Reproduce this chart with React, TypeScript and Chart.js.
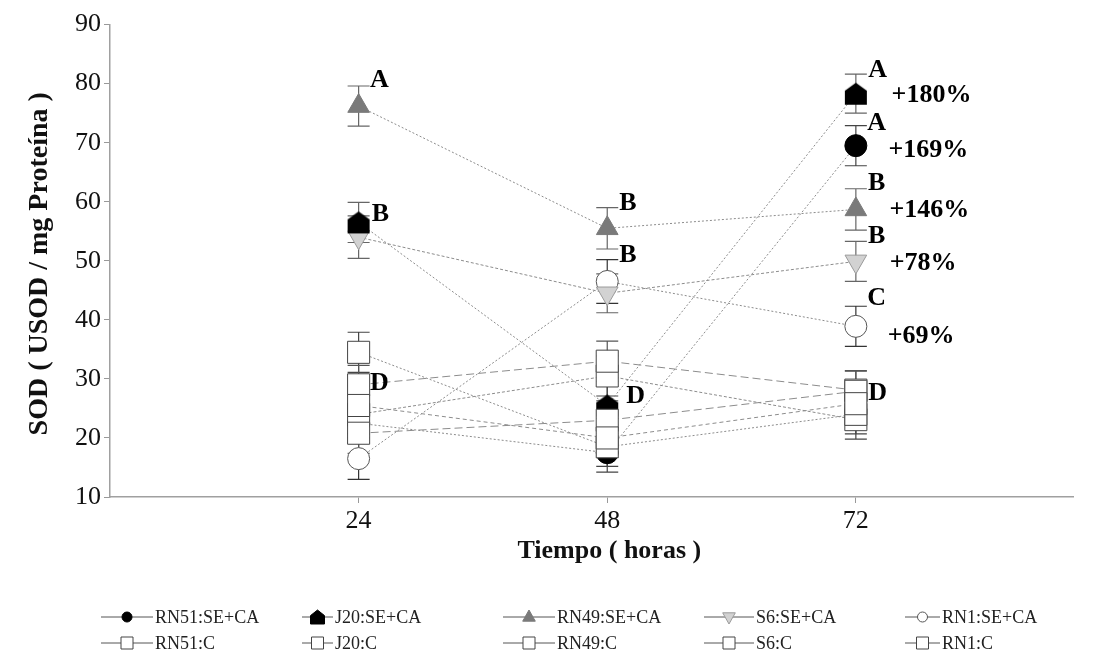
import React, { useEffect, useRef } from 'react';
import { Chart, registerables } from 'chart.js';

Chart.register(...registerables);

// ---------- data ----------
const hours = [24, 48, 72];
const xTicks = [24, 48, 72];
const yTicks = [10, 20, 30, 40, 50, 60, 70, 80, 90];

const seriesNames = [
  'RN51:SE+CA', 'J20:SE+CA', 'RN49:SE+CA', 'S6:SE+CA', 'RN1:SE+CA',
  'RN51:C', 'J20:C', 'RN49:C', 'S6:C', 'RN1:C',
];

const rn51SE = [22.5, 17.5, 69.5];
const j20SE = [56.5, 25.5, 78.3];
const rn49SE = [76.2, 55.5, 58.7];
const s6SE = [54.0, 44.5, 49.9];
const rn1SE = [16.5, 46.5, 38.9];
const rn51C = [25.5, 20.0, 25.8];
const j20C = [20.8, 23.0, 27.9];
const rn49C = [34.5, 18.5, 24.0];
const s6C = [29.0, 33.0, 28.1];
const rn1C = [24.0, 30.5, 23.1];

const rn51SEErr = [3.3, 3.3, 3.4];
const j20SEErr = [3.4, 3.3, 3.3];
const rn49SEErr = [3.4, 3.5, 3.5];
const s6SEErr = [3.6, 3.3, 3.4];
const rn1SEErr = [3.5, 3.7, 3.4];
const rn51CErr = [3.3, 3.3, 3.3];
const j20CErr = [3.4, 3.3, 3.4];
const rn49CErr = [3.4, 3.3, 3.3];
const s6CErr = [3.3, 3.4, 3.3];
const rn1CErr = [3.3, 3.4, 3.3];

// annotation letters / percentages (x in hours, y in SOD units)
const labelTexts = ['A', 'B', 'D', 'B', 'B', 'D', 'A', '+180%', 'A', '+169%', 'B', '+146%', 'B', '+78%', 'C', '+69%', 'D'];
const labelX = [26.0, 26.1, 26.0, 50.0, 50.0, 50.75, 74.1, 79.3, 74.0, 79.0, 74.0, 79.1, 74.0, 78.5, 74.0, 78.3, 74.1];
const labelY = [80.5, 57.8, 29.3, 59.8, 50.9, 27.1, 82.3, 78.0, 73.3, 68.7, 63.2, 58.5, 54.1, 49.6, 43.6, 37.3, 27.6];

const yTitle = 'SOD ( USOD / mg Proteína )';
const xTitle = 'Tiempo ( horas )';

const SERIF = "'Liberation Serif', 'Times New Roman', serif";

export default function App() {
  const ref = useRef<HTMLCanvasElement>(null);

  useEffect(() => {
    const canvas = ref.current;
    if (!canvas) return;

    // pentagon ("house") marker
    const pent = document.createElement('canvas');
    pent.width = 24;
    pent.height = 24;
    const pc = pent.getContext('2d')!;
    pc.fillStyle = '#000';
    pc.beginPath();
    pc.moveTo(12, 1);
    pc.lineTo(23, 9);
    pc.lineTo(23, 23);
    pc.lineTo(1, 23);
    pc.lineTo(1, 9);
    pc.closePath();
    pc.fill();

    const values = [rn51SE, j20SE, rn49SE, s6SE, rn1SE, rn51C, j20C, rn49C, s6C, rn1C];
    const errs = [rn51SEErr, j20SEErr, rn49SEErr, s6SEErr, rn1SEErr, rn51CErr, j20CErr, rn49CErr, s6CErr, rn1CErr];
    const kinds = ['circle', 'pent', 'tri', 'tridown', 'circle', 'rect', 'rect', 'rect', 'rect', 'rect'];
    const fills = ['#000', '#000', '#7a7a7a', '#d2d2d2', '#fff', '#fff', '#fff', '#fff', '#fff', '#fff'];
    const strokes = ['#000', '#000', '#7a7a7a', '#9a9a9a', '#555', '#444', '#444', '#444', '#444', '#444'];
    const whisk = ['#444', '#666', '#666', '#666', '#333', '#444', '#555', '#444', '#555', '#444'];
    const dashes = [[2, 2], [2, 2], [2, 2], [3, 2], [2, 2], [4, 3], [8, 4], [2, 2], [8, 4], [3, 2]];

    const datasets = seriesNames.map((name, i) => {
      const k = kinds[i];
      let pointStyle: any = 'circle';
      let radius = 11;
      let rotation = 0;
      if (k === 'pent') { pointStyle = pent; radius = 12; }
      if (k === 'tri') { pointStyle = 'triangle'; radius = 12.5; }
      if (k === 'tridown') { pointStyle = 'triangle'; radius = 12.5; rotation = 180; }
      if (k === 'rect') { pointStyle = 'rect'; radius = 15.6; }
      return {
        label: name,
        data: hours.map((h, j) => ({ x: h, y: values[i][j] })),
        borderColor: '#8c8c8c',
        borderWidth: 1,
        borderDash: dashes[i],
        fill: false,
        tension: 0,
        pointStyle,
        pointRadius: radius,
        pointRotation: rotation,
        pointBackgroundColor: fills[i],
        pointBorderColor: strokes[i],
        pointBorderWidth: 1,
        order: i < 5 ? 1 : 0,
      };
    });

    const drawSym = (ctx: CanvasRenderingContext2D, kind: string, x: number, y: number, s: number, fill: string, stroke: string) => {
      ctx.save();
      ctx.setLineDash([]);
      ctx.beginPath();
      if (kind === 'circle') ctx.arc(x, y, s, 0, Math.PI * 2);
      else if (kind === 'tri') {
        ctx.moveTo(x, y - s); ctx.lineTo(x + s * 0.9, y + s * 0.6); ctx.lineTo(x - s * 0.9, y + s * 0.6); ctx.closePath();
      } else if (kind === 'tridown') {
        ctx.moveTo(x, y + s); ctx.lineTo(x + s * 0.9, y - s * 0.6); ctx.lineTo(x - s * 0.9, y - s * 0.6); ctx.closePath();
      } else if (kind === 'rect') ctx.rect(x - s, y - s, 2 * s, 2 * s);
      else if (kind === 'pent') {
        ctx.moveTo(x, y - s); ctx.lineTo(x + s, y - s * 0.2); ctx.lineTo(x + s, y + s); ctx.lineTo(x - s, y + s); ctx.lineTo(x - s, y - s * 0.2); ctx.closePath();
      }
      ctx.fillStyle = fill;
      ctx.fill();
      ctx.strokeStyle = stroke;
      ctx.lineWidth = 1;
      ctx.stroke();
      ctx.restore();
    };

    const extras = {
      id: 'extras',
      beforeDatasetsDraw(chart: any) {
        const ctx = chart.ctx as CanvasRenderingContext2D;
        const ys = chart.scales.y;
        ctx.save();
        ctx.setLineDash([]);
        ctx.lineWidth = 1.2;
        values.forEach((vals, i) => {
          const meta = chart.getDatasetMeta(i);
          vals.forEach((v, j) => {
            const x = meta.data[j].x;
            const top = ys.getPixelForValue(v + errs[i][j]);
            const bot = ys.getPixelForValue(v - errs[i][j]);
            ctx.strokeStyle = whisk[i];
            ctx.beginPath();
            ctx.moveTo(x, top); ctx.lineTo(x, bot);
            ctx.moveTo(x - 11, top); ctx.lineTo(x + 11, top);
            ctx.moveTo(x - 11, bot); ctx.lineTo(x + 11, bot);
            ctx.stroke();
          });
        });
        ctx.restore();
      },
      afterDraw(chart: any) {
        const ctx = chart.ctx as CanvasRenderingContext2D;
        const xs = chart.scales.x;
        const ys = chart.scales.y;
        const area = chart.chartArea;
        ctx.save();
        // annotations
        ctx.fillStyle = '#000';
        ctx.font = `bold 26px ${SERIF}`;
        ctx.textAlign = 'center';
        ctx.textBaseline = 'middle';
        labelTexts.forEach((t, i) => {
          ctx.fillText(t, xs.getPixelForValue(labelX[i]), ys.getPixelForValue(labelY[i]));
        });
        // y title
        ctx.save();
        ctx.translate(32, (area.top + area.bottom) / 2 + 3);
        ctx.rotate(-Math.PI / 2);
        ctx.font = `bold 28px ${SERIF}`;
        ctx.fillStyle = '#111';
        ctx.fillText(yTitle, 0, 0);
        ctx.restore();
        // x title
        ctx.font = `bold 26px ${SERIF}`;
        ctx.fillStyle = '#111';
        ctx.fillText(xTitle, xs.getPixelForValue(48.2), 543);
        // legend
        const lineStart = [93, 294, 495, 696, 897];
        const textStart = [147, 327, 549, 748, 934];
        const rowY = [609, 635];
        ctx.font = `18px ${SERIF}`;
        ctx.textAlign = 'left';
        seriesNames.forEach((name, i) => {
          const r = i < 5 ? 0 : 1;
          const c = i % 5;
          const y = rowY[r];
          const x0 = lineStart[c];
          const x1 = textStart[c] - 2;
          ctx.strokeStyle = '#555';
          ctx.lineWidth = 1;
          ctx.setLineDash([]);
          ctx.beginPath();
          ctx.moveTo(x0, y); ctx.lineTo(x1, y);
          ctx.stroke();
          const mx = (x0 + x1) / 2;
          const k = kinds[i];
          const s = k === 'circle' ? 5 : k === 'rect' ? 6 : 7;
          drawSym(ctx, k, mx, y, s, fills[i], strokes[i]);
          ctx.fillStyle = '#222';
          ctx.fillText(name, textStart[c], y + 1);
        });
        ctx.restore();
      },
    };

    const chart = new Chart(canvas, {
      type: 'line',
      data: { datasets: datasets as any },
      options: {
        animation: false,
        responsive: false,
        devicePixelRatio: 1,
        layout: { padding: { top: 12, right: 0, left: 0, bottom: 0 } },
        plugins: { legend: { display: false }, tooltip: { enabled: false } },
        scales: {
          x: {
            type: 'linear',
            min: 0,
            max: 93,
            afterBuildTicks: (scale: any) => { scale.ticks = xTicks.map((v) => ({ value: v })); },
            afterFit: (scale: any) => { scale.height = 156; scale.paddingLeft = 0; scale.paddingRight = 0; },
            grid: { display: true, drawOnChartArea: false, drawTicks: true, tickLength: 6, color: '#999' },
            border: { display: true, color: '#a0a0a0', width: 1.5 },
            ticks: { font: { family: SERIF, size: 26 }, color: '#111', padding: 3, maxRotation: 0, autoSkip: false },
          },
          y: {
            type: 'linear',
            min: 10,
            max: 90,
            afterBuildTicks: (scale: any) => { scale.ticks = yTicks.map((v) => ({ value: v })); },
            afterFit: (scale: any) => { scale.width = 102; scale.paddingTop = 0; scale.paddingBottom = 0; },
            grid: { display: true, drawOnChartArea: false, drawTicks: true, tickLength: 6, color: '#999' },
            border: { display: true, color: '#a0a0a0', width: 1.5 },
            ticks: { font: { family: SERIF, size: 26 }, color: '#111', padding: 3 },
          },
        },
      },
      plugins: [extras],
    });

    return () => chart.destroy();
  }, []);

  return (
    <div style={{ width: 1082, height: 645 }}>
      <canvas ref={ref} width={1082} height={645} style={{ display: 'block' }} />
    </div>
  );
}
